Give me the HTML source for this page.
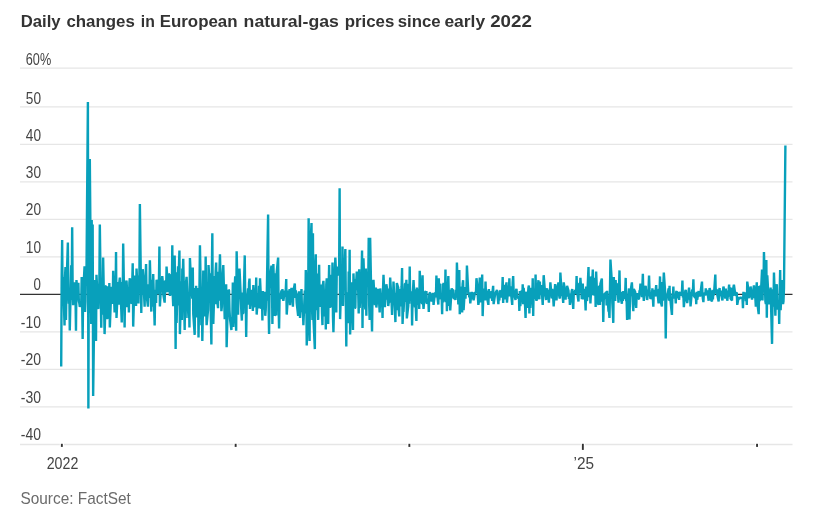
<!DOCTYPE html>
<html><head><meta charset="utf-8"><title>Daily changes in European natural-gas prices</title>
<style>
html,body{margin:0;padding:0;background:#fff}
svg{display:block}
text{font-family:"Liberation Sans",Arial,sans-serif}
</style></head><body>
<svg width="816" height="517" viewBox="0 0 816 517">
<rect width="816" height="517" fill="#fff"/>
<text y="26.7" font-size="17" font-weight="bold" fill="#333"><tspan x="20.7" textLength="39.9" lengthAdjust="spacingAndGlyphs">Daily</tspan> <tspan x="66.4" textLength="68.4" lengthAdjust="spacingAndGlyphs">changes</tspan> <tspan x="140.8" textLength="14.0" lengthAdjust="spacingAndGlyphs">in</tspan> <tspan x="159.7" textLength="77.9" lengthAdjust="spacingAndGlyphs">European</tspan> <tspan x="243.6" textLength="95.3" lengthAdjust="spacingAndGlyphs">natural-gas</tspan> <tspan x="344.7" textLength="49.6" lengthAdjust="spacingAndGlyphs">prices</tspan> <tspan x="397.7" textLength="42.9" lengthAdjust="spacingAndGlyphs">since</tspan> <tspan x="444.4" textLength="40.7" lengthAdjust="spacingAndGlyphs">early</tspan> <tspan x="490.2" textLength="41.6" lengthAdjust="spacingAndGlyphs">2022</tspan></text>
<g stroke="#e6e6e6" stroke-width="1.3"><line x1="20" x2="792.5" y1="68.2" y2="68.2"/><line x1="20" x2="792.5" y1="106.9" y2="106.9"/><line x1="20" x2="792.5" y1="144.4" y2="144.4"/><line x1="20" x2="792.5" y1="181.9" y2="181.9"/><line x1="20" x2="792.5" y1="219.4" y2="219.4"/><line x1="20" x2="792.5" y1="256.9" y2="256.9"/><line x1="20" x2="792.5" y1="331.9" y2="331.9"/><line x1="20" x2="792.5" y1="369.4" y2="369.4"/><line x1="20" x2="792.5" y1="406.9" y2="406.9"/><line x1="20" x2="792.5" y1="444.5" y2="444.5"/></g>
<g font-size="16.8" fill="#444"><text x="25.8" y="64.8" textLength="25.4" lengthAdjust="spacingAndGlyphs">60%</text><text x="25.8" y="103.7" textLength="15.2" lengthAdjust="spacingAndGlyphs">50</text><text x="25.8" y="141.0" textLength="15.2" lengthAdjust="spacingAndGlyphs">40</text><text x="25.8" y="178.0" textLength="15.2" lengthAdjust="spacingAndGlyphs">30</text><text x="25.8" y="214.9" textLength="15.2" lengthAdjust="spacingAndGlyphs">20</text><text x="25.8" y="252.7" textLength="15.2" lengthAdjust="spacingAndGlyphs">10</text><text x="33.6" y="290.2" textLength="7.4" lengthAdjust="spacingAndGlyphs">0</text><text x="20.8" y="327.7" textLength="20.2" lengthAdjust="spacingAndGlyphs">-10</text><text x="20.8" y="365.3" textLength="20.2" lengthAdjust="spacingAndGlyphs">-20</text><text x="20.8" y="402.8" textLength="20.2" lengthAdjust="spacingAndGlyphs">-30</text><text x="20.8" y="440.2" textLength="20.2" lengthAdjust="spacingAndGlyphs">-40</text></g>
<line x1="20" x2="792.5" y1="294.4" y2="294.4" stroke="#333" stroke-width="1.2"/>
<path d="M61.20 366.4 L61.68 277.1 L62.15 240.0 L62.63 303.3 L63.11 277.1 L64.54 325.5 L65.01 277.1 L65.49 267.1 L65.97 319.9 L66.44 288.4 L67.87 242.6 L68.35 292.4 L68.83 303.7 L69.30 288.4 L69.78 330.4 L71.21 265.3 L71.69 300.0 L72.17 227.2 L72.64 288.4 L73.12 305.2 L74.55 282.3 L75.03 301.9 L75.50 295.5 L75.98 330.8 L76.46 280.1 L77.89 300.5 L78.36 282.8 L78.84 301.5 L79.32 303.2 L79.79 306.8 L81.22 303.2 L81.70 277.1 L82.18 303.2 L82.65 339.0 L83.13 294.0 L84.56 266.2 L85.04 312.0 L85.51 301.5 L85.99 272.0 L86.47 275.2 L87.90 102.0 L88.38 408.4 L88.85 256.5 L89.33 312.8 L89.81 159.0 L91.24 324.0 L91.71 220.1 L92.19 286.5 L92.67 224.6 L93.14 396.0 L94.57 286.5 L95.05 280.1 L95.53 309.3 L96.00 340.9 L96.48 274.7 L97.91 304.8 L98.39 309.0 L98.86 284.0 L99.34 286.1 L99.82 224.6 L101.25 327.8 L101.72 278.7 L102.20 312.3 L102.68 314.5 L103.15 257.6 L104.59 334.1 L105.06 318.0 L105.54 286.2 L106.02 286.2 L106.49 318.0 L107.92 318.0 L108.40 286.2 L108.88 314.6 L109.35 283.1 L109.83 327.4 L111.26 289.6 L111.74 286.7 L112.21 299.5 L112.69 303.8 L113.17 270.8 L114.60 312.4 L115.07 287.7 L115.55 297.3 L116.03 252.0 L116.50 318.0 L117.93 286.1 L118.41 282.1 L118.89 304.7 L119.36 282.1 L119.84 277.5 L121.27 309.4 L121.75 322.5 L122.23 282.1 L122.70 300.2 L123.18 243.4 L124.61 327.4 L125.09 291.8 L125.56 307.2 L126.04 282.7 L126.52 280.5 L127.95 307.2 L128.42 288.1 L128.90 312.4 L129.38 282.7 L129.85 278.2 L131.28 303.0 L131.76 303.5 L132.24 282.7 L132.71 263.2 L133.19 326.6 L134.62 275.6 L135.10 279.1 L135.57 300.7 L136.05 306.0 L136.53 268.5 L137.96 297.5 L138.44 303.5 L138.91 275.6 L139.39 279.4 L139.87 204.0 L141.30 313.1 L141.77 279.1 L142.25 295.0 L142.73 269.2 L143.20 276.2 L144.63 306.8 L145.11 276.2 L145.59 276.2 L146.06 264.0 L146.54 294.7 L147.97 306.6 L148.45 284.3 L148.92 295.2 L149.40 297.8 L149.88 260.2 L151.31 311.6 L151.78 279.7 L152.26 306.7 L152.74 301.2 L153.21 274.1 L154.65 325.5 L155.12 296.2 L155.60 289.7 L156.08 302.9 L156.55 279.7 L157.98 294.1 L158.46 279.7 L158.94 281.8 L159.41 246.4 L159.89 306.4 L161.32 281.0 L161.80 281.0 L162.27 276.0 L162.75 281.0 L163.23 294.1 L164.66 302.6 L165.13 281.0 L165.61 281.0 L166.09 292.4 L166.56 266.6 L167.99 289.2 L168.47 292.0 L168.95 274.3 L169.42 274.3 L169.90 295.9 L171.33 274.3 L171.81 295.4 L172.29 245.2 L172.76 295.4 L173.24 306.1 L174.67 255.4 L175.15 295.4 L175.62 349.1 L176.10 272.2 L176.58 322.9 L178.01 266.2 L178.48 305.5 L178.96 266.2 L179.44 250.5 L179.91 334.1 L181.34 281.3 L181.82 319.9 L182.30 268.6 L182.77 274.0 L183.25 258.8 L184.68 330.0 L185.16 286.5 L185.63 318.0 L186.11 281.6 L186.59 276.8 L188.02 309.0 L188.50 318.0 L188.97 294.1 L189.45 327.4 L189.93 258.0 L191.36 289.1 L191.83 292.7 L192.31 298.6 L192.79 267.4 L193.26 313.8 L194.69 334.9 L195.17 288.1 L195.65 309.5 L196.12 285.8 L196.60 317.4 L198.03 288.1 L198.51 337.5 L198.98 310.0 L199.46 288.1 L199.94 245.2 L201.37 325.3 L201.84 289.7 L202.32 340.9 L202.80 316.4 L203.27 270.4 L204.71 311.0 L205.18 316.4 L205.66 256.5 L206.14 304.8 L206.61 325.1 L208.04 309.9 L208.52 265.1 L209.00 273.2 L209.47 303.0 L209.95 273.2 L211.38 344.6 L211.86 273.2 L212.33 233.2 L212.81 310.0 L213.29 324.0 L214.72 276.1 L215.19 304.3 L215.67 271.3 L216.15 262.5 L216.62 295.1 L218.05 308.2 L218.53 271.7 L219.01 300.7 L219.48 271.3 L219.96 254.2 L221.39 311.2 L221.87 306.4 L222.35 273.2 L222.82 273.2 L223.30 265.1 L224.73 319.1 L225.21 289.1 L225.68 303.6 L226.16 284.2 L226.64 347.2 L228.07 293.1 L228.54 289.8 L229.02 290.5 L229.50 310.0 L229.97 318.5 L231.40 330.0 L231.88 317.5 L232.36 317.8 L232.83 282.4 L233.31 327.0 L234.74 285.6 L235.22 276.3 L235.69 317.8 L236.17 330.8 L236.65 251.2 L238.08 314.8 L238.56 290.0 L239.03 275.6 L239.51 268.5 L239.99 278.7 L241.42 313.2 L241.89 320.6 L242.37 292.5 L242.85 313.2 L243.32 313.2 L244.75 255.4 L245.23 301.1 L245.71 295.2 L246.18 337.1 L246.66 304.8 L248.09 288.4 L248.57 304.8 L249.04 282.9 L249.52 278.6 L250.00 309.0 L251.43 289.8 L251.90 304.8 L252.38 294.8 L252.86 310.9 L253.33 285.0 L254.76 307.3 L255.24 289.3 L255.72 302.9 L256.20 277.5 L256.67 314.6 L258.10 293.0 L258.58 305.5 L259.06 285.7 L259.53 308.4 L260.01 278.2 L261.44 308.9 L261.92 292.9 L262.39 320.6 L262.87 291.0 L263.35 309.7 L264.78 291.8 L265.25 315.8 L265.73 309.7 L266.21 291.8 L266.68 300.8 L268.11 214.5 L268.59 306.4 L269.07 334.1 L269.54 289.0 L270.02 278.1 L271.45 265.6 L271.93 278.1 L272.41 324.0 L272.88 276.6 L273.36 264.0 L274.79 315.6 L275.27 315.0 L275.74 273.3 L276.22 315.6 L276.70 272.4 L278.13 257.6 L278.60 306.4 L279.08 328.5 L279.56 298.9 L280.03 298.9 L281.46 290.5 L281.94 298.9 L282.42 289.1 L282.89 298.9 L283.37 300.8 L284.80 290.5 L285.28 296.8 L285.75 290.5 L286.23 279.0 L286.71 314.6 L288.14 293.5 L288.62 290.5 L289.09 297.3 L289.57 289.1 L290.05 305.2 L291.48 287.8 L291.95 302.1 L292.43 293.1 L292.91 306.8 L293.38 291.1 L294.81 283.5 L295.29 297.9 L295.77 290.5 L296.24 294.0 L296.72 303.2 L298.15 315.8 L298.63 295.0 L299.10 291.4 L299.58 309.7 L300.06 318.0 L301.49 289.1 L301.96 311.3 L302.44 311.3 L302.92 311.3 L303.39 325.1 L304.82 290.5 L305.30 313.4 L305.78 270.0 L306.26 280.4 L306.73 345.4 L308.16 303.5 L308.64 218.2 L309.12 305.0 L309.59 340.9 L310.07 254.2 L311.50 223.1 L311.98 306.7 L312.45 320.0 L312.93 233.2 L313.41 317.8 L314.84 349.1 L315.31 265.4 L315.79 254.2 L316.27 310.2 L316.74 273.4 L318.17 319.9 L318.65 286.3 L319.13 264.8 L319.60 303.2 L320.08 306.9 L321.51 284.6 L321.99 312.6 L322.47 325.1 L322.94 284.6 L323.42 280.9 L324.85 316.4 L325.33 296.2 L325.80 329.6 L326.28 284.6 L326.76 278.4 L328.19 324.0 L328.66 287.7 L329.14 265.1 L329.62 308.0 L330.09 303.3 L331.52 274.8 L332.00 307.5 L332.48 262.5 L332.95 315.6 L333.43 332.2 L334.86 271.3 L335.34 257.6 L335.81 267.8 L336.29 312.4 L336.77 267.8 L338.20 267.8 L338.67 275.8 L339.15 267.8 L339.63 188.2 L340.11 319.1 L341.54 269.4 L342.01 297.0 L342.49 246.4 L342.97 306.0 L343.44 283.7 L344.87 261.6 L345.35 249.0 L345.83 302.6 L346.30 346.5 L346.78 292.2 L348.21 323.2 L348.69 271.5 L349.16 308.8 L349.64 249.8 L350.12 334.5 L351.55 282.2 L352.02 314.3 L352.50 296.7 L352.98 330.0 L353.45 273.4 L354.88 308.0 L355.36 307.8 L355.84 279.1 L356.32 279.9 L356.79 271.5 L358.22 291.4 L358.70 313.5 L359.18 269.2 L359.65 308.0 L360.13 299.8 L361.56 276.2 L362.04 250.5 L362.51 328.1 L362.99 268.4 L363.47 258.4 L364.90 304.9 L365.37 309.4 L365.85 268.4 L366.33 315.8 L366.80 271.5 L368.23 285.1 L368.71 237.8 L369.19 304.9 L369.66 319.9 L370.14 237.8 L371.57 312.6 L372.05 331.5 L372.52 294.6 L373.00 283.7 L373.48 279.8 L374.91 305.2 L375.39 289.4 L375.86 287.6 L376.34 307.5 L376.82 303.7 L378.25 288.9 L378.72 299.6 L379.20 303.7 L379.68 312.4 L380.15 288.4 L381.58 307.2 L382.06 297.4 L382.54 318.0 L383.01 289.9 L383.49 274.9 L384.92 307.1 L385.40 290.4 L385.87 299.6 L386.35 284.2 L386.83 287.0 L388.26 306.0 L388.73 302.6 L389.21 288.6 L389.69 302.6 L390.17 277.5 L391.60 302.6 L392.07 315.0 L392.55 293.9 L393.03 299.7 L393.50 281.6 L394.93 309.1 L395.41 322.1 L395.89 292.7 L396.36 310.2 L396.84 283.1 L398.27 287.9 L398.75 310.2 L399.22 316.5 L399.70 289.0 L400.18 306.4 L401.61 286.2 L402.08 268.1 L402.56 324.0 L403.04 311.6 L403.51 311.6 L404.94 283.7 L405.42 283.7 L405.90 302.0 L406.37 279.8 L406.85 318.4 L408.28 305.8 L408.76 283.7 L409.24 303.7 L409.71 266.6 L410.19 300.7 L411.62 291.3 L412.10 325.5 L412.57 297.1 L413.05 289.3 L413.53 280.1 L414.96 307.4 L415.43 289.4 L415.91 311.3 L416.39 321.0 L416.86 287.6 L418.29 304.8 L418.77 289.4 L419.25 309.0 L419.72 270.8 L420.20 280.5 L421.63 302.0 L422.11 304.0 L422.58 275.2 L423.06 302.2 L423.54 309.0 L424.97 291.8 L425.45 291.8 L425.92 302.8 L426.40 291.0 L426.88 303.9 L428.31 298.7 L428.78 312.0 L429.26 294.8 L429.74 292.9 L430.21 292.9 L431.64 301.6 L432.12 293.8 L432.60 301.8 L433.07 292.9 L433.55 304.9 L434.98 292.9 L435.46 292.9 L435.93 297.3 L436.41 275.6 L436.89 291.7 L438.32 304.5 L438.79 278.2 L439.27 294.5 L439.75 283.5 L440.23 299.2 L441.66 296.3 L442.13 314.2 L442.61 283.8 L443.09 302.5 L443.56 282.7 L444.99 301.5 L445.47 269.6 L445.95 302.2 L446.42 282.0 L446.90 311.2 L448.33 276.0 L448.81 296.5 L449.28 305.9 L449.76 289.9 L450.24 310.5 L451.67 288.4 L452.14 289.9 L452.62 289.9 L453.10 289.9 L453.57 298.3 L455.00 298.3 L455.48 300.0 L455.96 289.9 L456.43 297.6 L456.91 262.5 L458.34 304.4 L458.82 285.7 L459.30 270.0 L459.77 314.2 L460.25 287.0 L461.68 291.3 L462.16 312.4 L462.63 284.2 L463.11 280.2 L463.59 310.1 L465.02 287.0 L465.49 298.7 L465.97 287.0 L466.45 291.5 L466.92 265.5 L468.35 294.5 L468.83 292.4 L469.31 297.4 L469.78 292.4 L470.26 303.4 L471.69 291.8 L472.17 296.5 L472.64 292.4 L473.12 298.1 L473.60 300.2 L475.03 292.4 L475.51 292.4 L475.98 292.4 L476.46 278.2 L476.94 282.7 L478.37 304.9 L478.84 301.8 L479.32 287.2 L479.80 277.5 L480.27 302.3 L481.70 292.4 L482.18 274.5 L482.66 316.1 L483.13 301.8 L483.61 288.6 L485.04 300.4 L485.52 281.6 L485.99 294.6 L486.47 290.5 L486.95 297.1 L488.38 304.9 L488.85 289.1 L489.33 297.8 L489.81 291.4 L490.28 298.2 L491.72 291.2 L492.19 300.9 L492.67 290.5 L493.15 285.8 L493.62 304.1 L495.05 294.6 L495.53 293.4 L496.01 291.8 L496.48 291.0 L496.96 289.9 L498.39 304.1 L498.87 293.1 L499.34 300.5 L499.82 291.0 L500.30 291.0 L501.73 297.6 L502.20 291.0 L502.68 277.1 L503.16 303.0 L503.63 285.6 L505.06 286.0 L505.54 299.5 L506.02 285.6 L506.49 282.4 L506.97 302.6 L508.40 285.6 L508.88 292.9 L509.36 278.2 L509.83 296.4 L510.31 286.4 L511.74 300.2 L512.22 304.9 L512.69 282.7 L513.17 276.0 L513.65 292.3 L515.08 298.3 L515.55 300.0 L516.03 290.2 L516.51 288.8 L516.98 296.6 L518.41 298.3 L518.89 295.6 L519.37 310.9 L519.84 291.1 L520.32 306.1 L521.75 290.4 L522.23 299.2 L522.70 284.2 L523.18 304.2 L523.66 287.8 L525.09 306.1 L525.57 318.0 L526.04 294.8 L526.52 291.8 L527.00 308.0 L528.43 287.8 L528.90 285.4 L529.38 313.5 L529.86 287.8 L530.33 308.0 L531.76 287.8 L532.24 301.5 L532.72 278.2 L533.19 316.1 L533.67 288.6 L535.10 298.9 L535.58 274.5 L536.05 298.9 L536.53 300.8 L537.01 297.8 L538.44 280.2 L538.91 296.1 L539.39 299.2 L539.87 281.6 L540.34 295.0 L541.78 285.1 L542.25 297.8 L542.73 304.9 L543.21 288.9 L543.68 275.2 L545.11 293.9 L545.59 296.7 L546.07 300.0 L546.54 289.9 L547.02 288.4 L548.45 298.3 L548.93 302.7 L549.40 289.9 L549.88 294.6 L550.36 282.4 L551.79 298.3 L552.26 288.8 L552.74 297.8 L553.22 298.3 L553.69 306.4 L555.12 284.2 L555.60 288.9 L556.08 297.2 L556.55 300.4 L557.03 289.5 L558.46 282.4 L558.94 293.1 L559.42 297.2 L559.89 298.5 L560.37 272.6 L561.80 296.2 L562.28 288.1 L562.75 297.2 L563.23 303.0 L563.71 282.4 L565.14 291.8 L565.61 299.8 L566.09 288.1 L566.57 296.7 L567.04 285.8 L568.47 290.5 L568.95 299.0 L569.43 293.8 L569.90 304.9 L570.38 301.8 L571.81 290.5 L572.29 289.1 L572.76 301.8 L573.24 309.0 L573.72 294.1 L575.15 290.5 L575.63 290.5 L576.10 294.2 L576.58 276.0 L577.06 291.4 L578.49 301.5 L578.96 285.0 L579.44 283.0 L579.92 292.9 L580.39 277.9 L581.82 299.1 L582.30 286.4 L582.78 283.5 L583.25 299.4 L583.73 288.8 L585.16 299.4 L585.64 310.5 L586.11 286.4 L586.59 300.4 L587.07 300.8 L588.50 267.0 L588.97 293.3 L589.45 297.1 L589.93 276.4 L590.40 303.4 L591.84 276.4 L592.31 280.1 L592.79 269.6 L593.27 295.2 L593.74 294.4 L595.17 277.8 L595.65 307.1 L596.13 271.5 L596.60 282.9 L597.08 298.8 L598.51 304.9 L598.99 286.9 L599.46 285.9 L599.94 304.9 L600.42 283.9 L601.85 278.6 L602.32 301.8 L602.80 293.5 L603.28 322.1 L603.75 299.4 L605.18 292.7 L605.66 298.5 L606.14 291.5 L606.61 305.4 L607.09 290.8 L608.52 311.3 L609.00 311.3 L609.48 318.0 L609.95 290.8 L610.43 259.5 L611.86 282.2 L612.34 303.1 L612.81 311.3 L613.29 322.9 L613.77 277.1 L615.20 300.9 L615.67 280.1 L616.15 294.5 L616.63 284.0 L617.10 284.0 L618.53 302.6 L619.01 287.6 L619.49 270.4 L619.96 294.4 L620.44 296.0 L621.87 303.8 L622.35 291.8 L622.82 301.0 L623.30 291.0 L623.78 299.1 L625.21 291.8 L625.69 277.9 L626.16 301.0 L626.64 301.0 L627.12 319.9 L628.55 293.4 L629.02 288.4 L629.50 319.5 L629.98 297.5 L630.45 292.1 L631.88 282.4 L632.36 290.5 L632.84 304.0 L633.31 311.1 L633.79 289.1 L635.22 292.1 L635.70 302.8 L636.17 307.9 L636.65 294.5 L637.13 293.4 L638.56 298.9 L639.03 298.9 L639.51 290.5 L639.99 290.5 L640.46 283.5 L641.89 297.2 L642.37 286.4 L642.85 273.8 L643.33 293.3 L643.80 300.8 L645.23 288.1 L645.71 285.8 L646.19 295.6 L646.66 291.3 L647.14 300.0 L648.57 288.1 L649.05 275.6 L649.52 289.9 L650.00 295.3 L650.48 298.8 L651.91 296.5 L652.38 288.4 L652.86 298.3 L653.34 306.8 L653.81 289.9 L655.24 296.4 L655.72 289.9 L656.20 285.0 L656.67 296.3 L657.15 289.4 L658.58 303.4 L659.06 288.9 L659.54 292.6 L660.01 276.4 L660.49 300.8 L661.92 306.5 L662.40 282.0 L662.87 300.8 L663.35 284.7 L663.83 272.6 L665.26 293.7 L665.73 338.6 L666.21 300.8 L666.69 295.9 L667.16 298.0 L668.59 288.5 L669.07 300.8 L669.55 285.8 L670.02 300.8 L670.50 300.8 L671.93 315.0 L672.41 293.5 L672.88 296.7 L673.36 286.5 L673.84 298.5 L675.27 294.3 L675.74 303.4 L676.22 291.8 L676.70 291.0 L677.18 298.3 L678.61 291.9 L679.08 300.0 L679.56 293.1 L680.04 291.8 L680.51 295.7 L681.94 291.8 L682.42 280.5 L682.90 297.4 L683.37 294.2 L683.85 307.1 L685.28 291.0 L685.76 289.9 L686.23 301.3 L686.71 294.0 L687.19 303.1 L688.62 291.0 L689.09 287.6 L689.57 299.8 L690.05 292.0 L690.52 306.4 L691.95 291.2 L692.43 289.6 L692.91 292.0 L693.39 279.4 L693.86 295.7 L695.29 297.8 L695.77 292.7 L696.25 304.1 L696.72 291.8 L697.20 299.9 L698.63 291.0 L699.11 296.2 L699.58 291.8 L700.06 296.6 L700.54 292.4 L701.97 281.6 L702.44 294.3 L702.92 298.9 L703.40 302.2 L703.87 292.7 L705.30 295.3 L705.78 288.4 L706.26 290.7 L706.73 295.3 L707.21 290.4 L708.64 300.8 L709.12 292.9 L709.59 288.0 L710.07 289.7 L710.55 298.9 L711.98 301.5 L712.46 290.2 L712.93 299.4 L713.41 289.7 L713.89 295.4 L715.32 274.5 L715.79 293.7 L716.27 289.7 L716.75 289.7 L717.22 294.5 L718.65 301.5 L719.13 290.2 L719.61 288.0 L720.08 296.1 L720.56 290.7 L721.99 298.6 L722.47 300.4 L722.94 291.7 L723.42 286.5 L723.90 288.6 L725.33 298.6 L725.80 288.6 L726.28 298.6 L726.76 290.7 L727.24 300.8 L728.67 289.4 L729.14 284.6 L729.62 296.6 L730.10 287.2 L730.57 298.6 L732.00 300.4 L732.48 287.7 L732.96 296.0 L733.43 287.2 L733.91 284.6 L735.34 295.0 L735.82 295.4 L736.29 292.9 L736.77 292.5 L737.25 304.9 L738.68 297.0 L739.15 298.8 L739.63 298.5 L740.11 297.8 L740.58 297.6 L742.01 298.0 L742.49 298.0 L742.97 308.2 L743.45 291.8 L743.92 298.2 L745.35 292.4 L745.83 301.3 L746.31 292.4 L746.78 304.9 L747.26 281.6 L748.69 292.1 L749.17 298.3 L749.64 289.5 L750.12 295.7 L750.60 286.5 L752.03 299.6 L752.50 292.3 L752.98 298.1 L753.46 288.6 L753.93 285.3 L755.36 298.1 L755.84 306.8 L756.32 290.0 L756.79 282.4 L757.27 302.3 L758.70 314.2 L759.18 286.1 L759.65 301.3 L760.13 285.6 L760.61 299.9 L762.04 269.6 L762.52 300.5 L762.99 277.4 L763.47 289.6 L763.95 252.0 L765.38 301.3 L765.85 304.1 L766.33 259.9 L766.81 317.7 L767.28 275.2 L768.71 301.3 L769.19 304.2 L769.67 289.4 L770.14 301.3 L770.62 287.6 L772.05 343.9 L772.53 302.0 L773.00 289.4 L773.48 306.7 L773.96 272.6 L775.39 315.8 L775.86 294.7 L776.34 289.8 L776.82 284.2 L777.30 309.7 L778.73 299.9 L779.20 324.0 L779.68 292.0 L780.16 270.0 L780.63 310.1 L782.06 280.1 L782.54 298.0 L783.02 304.1 L783.49 301.3 L783.97 288.4 L785.40 145.5" fill="none" stroke="#08a0bb" stroke-width="2.4" stroke-linejoin="bevel"/>
<g fill="#333"><rect x="59.8" y="443" width="4.2" height="3" fill="#fff"/><rect x="60.9" y="443.8" width="1.9" height="3.1"/><rect x="233.5" y="443" width="4.2" height="3" fill="#fff"/><rect x="234.7" y="443.8" width="1.9" height="3.1"/><rect x="407.2" y="443" width="4.2" height="3" fill="#fff"/><rect x="408.4" y="443.8" width="1.9" height="3.1"/><rect x="580.8" y="443" width="4.2" height="3" fill="#fff"/><rect x="581.9" y="443.8" width="1.9" height="6.1"/><rect x="755.0" y="443" width="4.2" height="3" fill="#fff"/><rect x="756.1" y="443.8" width="1.9" height="3.1"/></g>
<g font-size="16.8" fill="#444">
<text x="46.7" y="469" textLength="31.6" lengthAdjust="spacingAndGlyphs">2022</text>
<text x="573.5" y="469" textLength="20.5" lengthAdjust="spacingAndGlyphs">’25</text>
</g>
<text x="20.5" y="503.7" font-size="16.4" fill="#6b6b6b" textLength="110.3" lengthAdjust="spacingAndGlyphs">Source: FactSet</text>
</svg>
</body></html>
